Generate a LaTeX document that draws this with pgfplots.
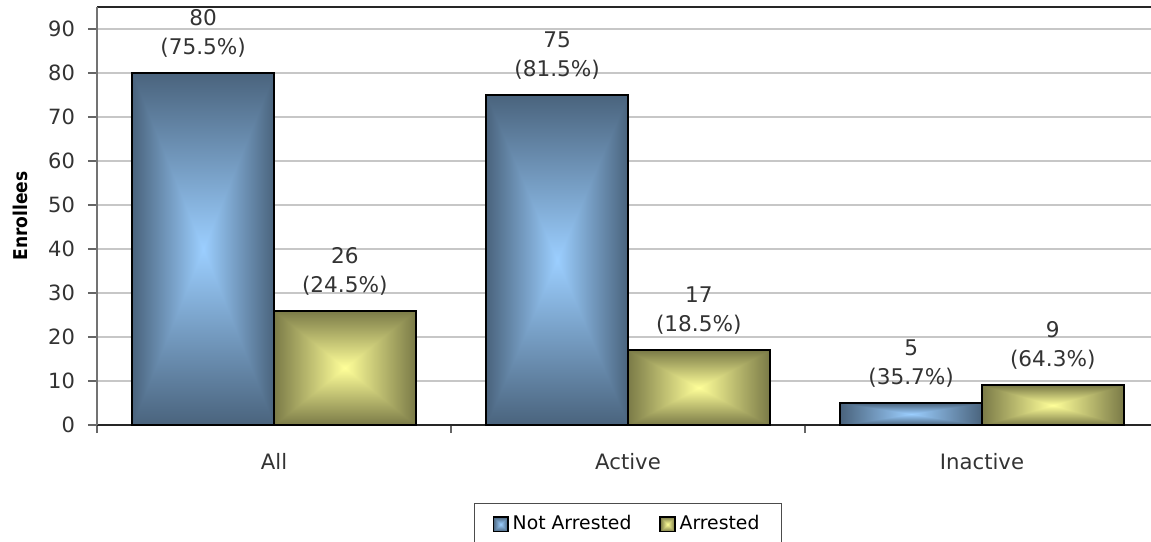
\documentclass[border=0pt]{standalone}
\usepackage{pgfplots}
\pgfplotsset{compat=1.18}
\usepackage{fontspec}
\setmainfont{DejaVu Sans}
\newfontfamily\condfont{DejaVu Sans Condensed}

\pgfdeclarefunctionalshading{boxblue}{\pgfpoint{-50bp}{-50bp}}{\pgfpoint{50bp}{50bp}}{}{
 abs exch abs 2 copy lt {exch} if pop 25 div dup 1 gt {pop 1} if
 dup -0.32 mul 0.61 add exch dup -0.42 mul 0.81 add exch -0.51 mul 1 add
}
\pgfdeclarefunctionalshading{boxyellow}{\pgfpoint{-50bp}{-50bp}}{\pgfpoint{50bp}{50bp}}{}{
 abs exch abs 2 copy lt {exch} if pop 25 div dup 1 gt {pop 1} if
 dup -0.52 mul 1 add exch dup -0.52 mul 1 add exch -0.32 mul 0.6 add
}
\pgfplotsset{
  sqlegend/.style={legend image code/.code={\draw[##1,/tikz/.cd,line width=0.9pt] (0pt,-3.6pt) rectangle (7.2pt,3.6pt);}},
  bluebar/.style={draw=black, line width=1pt, shade, shading=boxblue, sqlegend, bar shift=-0.2},
  yellowbar/.style={draw=black, line width=1pt, shade, shading=boxyellow, sqlegend, bar shift=0.2},
}

\begin{document}
\begin{tikzpicture}
\useasboundingbox (-48.5pt,-58pt) rectangle (527pt,212.5pt);
\begin{axis}[
  scale only axis, width=531pt, height=209pt,
  xmin=-0.5, xmax=2.5, ymin=0, ymax=95,
  ybar=0pt, bar width=0.4,
  ytick={0,10,...,90},
  xtick={0,1,2}, xticklabels={All,Active,Inactive},
  minor xtick={-0.5,0.5,1.5,2.5},
  major x tick style={draw=none},
  tick align=outside,
  major tick length=4.5pt, minor tick length=4pt,
  axis x line*=box, axis y line*=left,
  xtick pos=left,
  x axis line style={black!85, line width=0.8pt},
  y axis line style={black!55, line width=0.6pt},
  tick style={black!60, line width=0.6pt},
  ymajorgrids, grid style={black!22, line width=0.6pt},
  /pgf/number format/assume math mode=true,
  yticklabel style={font=\fontsize{10.5}{12}\selectfont, text=black!80, xshift=-3pt},
  xticklabel style={font=\fontsize{10.6}{12}\selectfont, text=black!80, yshift=-6pt},
  every axis y label/.style={at={(axis description cs:0,0.5)}, xshift=-38.5pt, rotate=90, anchor=center},
  ylabel={\condfont\bfseries\fontsize{9.5}{11}\selectfont Enrollees},
  legend style={at={(axis description cs:0.5,0)}, anchor=north, yshift=-39pt,
    draw=black!70, line width=0.6pt, legend columns=2,
    font=\fontsize{9.4}{11}\selectfont, inner xsep=9pt, inner ysep=4pt,
    /tikz/every even column/.append style={column sep=12pt}},
  point meta=explicit,
  visualization depends on={y \as \rawy},
  nodes near coords={\pgfmathprintnumber{\rawy}\\(\pgfmathprintnumber[fixed,precision=1,fixed zerofill]{\pgfplotspointmeta}\%)},
  every node near coord/.append style={align=center, font=\fontsize{10.8}{14.5}\selectfont, text=black!80, yshift=4pt},
]
\addplot[bluebar] coordinates {(0,80) [75.5]};
\addplot[yellowbar] coordinates {(0,26) [24.5]};
\addplot[bluebar, forget plot] coordinates {(1,75) [81.5]};
\addplot[yellowbar, forget plot] coordinates {(1,17) [18.5]};
\addplot[bluebar, forget plot] coordinates {(2,5) [35.7]};
\addplot[yellowbar, forget plot] coordinates {(2,9) [64.3]};
\legend{Not Arrested, Arrested}
\end{axis}
\end{tikzpicture}
\end{document}
